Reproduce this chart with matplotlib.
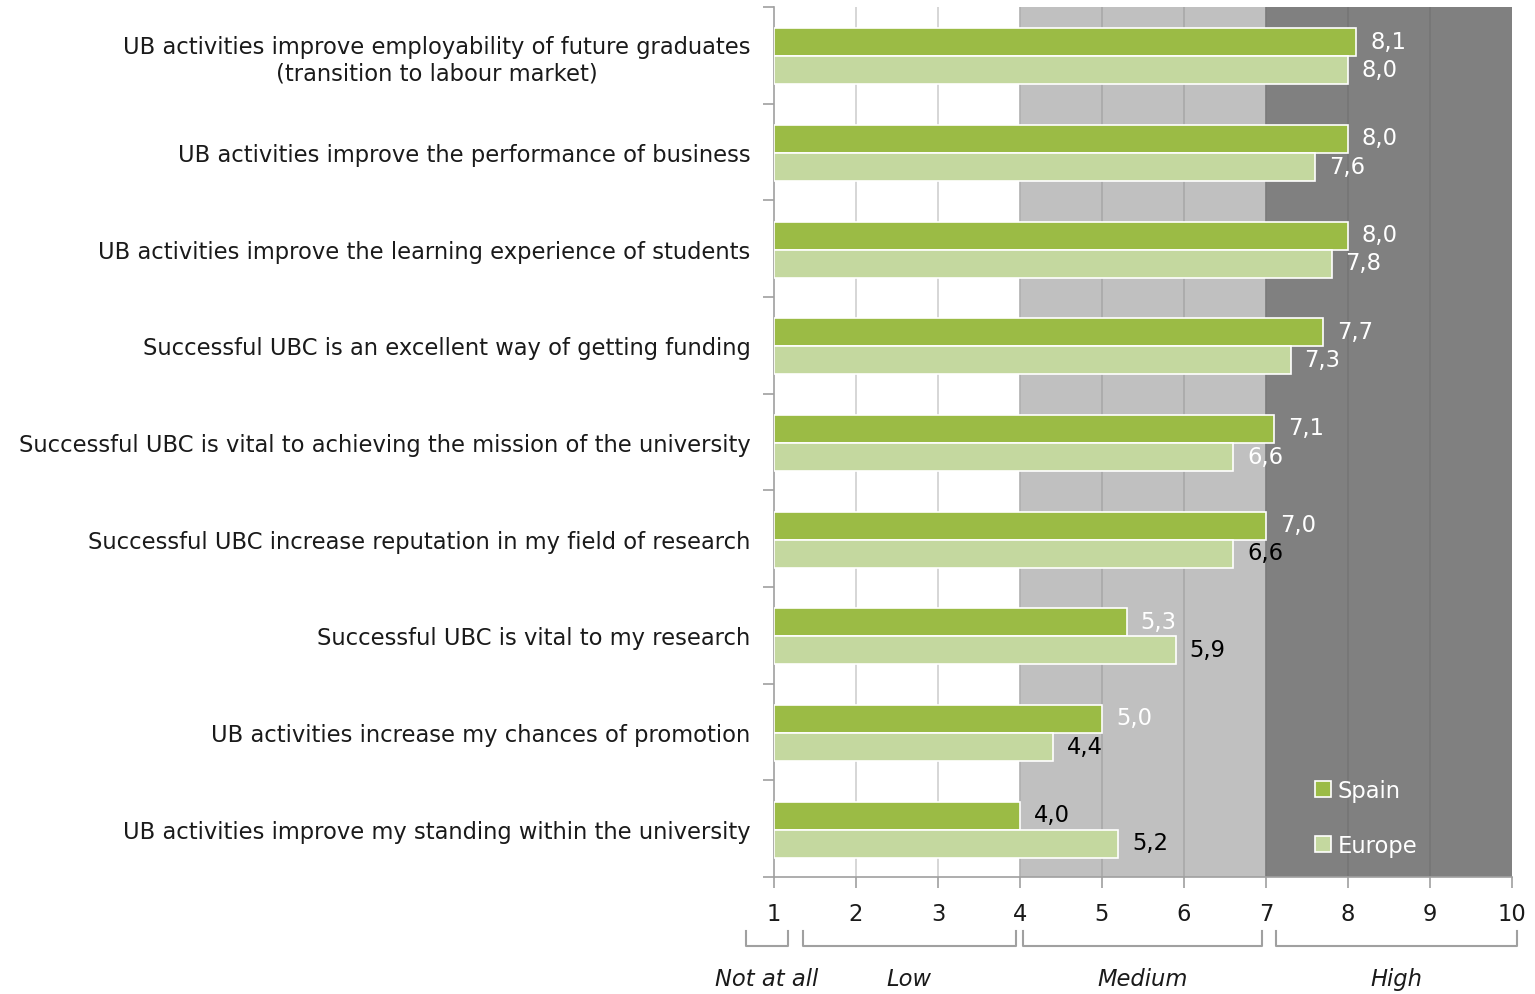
import matplotlib
matplotlib.use("Agg")
import matplotlib.pyplot as plt
import numpy as np

categories = [
    "UB activities improve employability of future graduates\n(transition to labour market)",
    "UB activities improve the performance of business",
    "UB activities improve the learning experience of students",
    "Successful UBC is an excellent way of getting funding",
    "Successful UBC is vital to achieving the mission of the university",
    "Successful UBC increase reputation in my field of research",
    "Successful UBC is vital to my research",
    "UB activities increase my chances of promotion",
    "UB activities improve my standing within the university",
]
spain = [8.1, 8.0, 8.0, 7.7, 7.1, 7.0, 5.3, 5.0, 4.0]
europe = [8.0, 7.6, 7.8, 7.3, 6.6, 6.6, 5.9, 4.4, 5.2]
spain_label_colors = ["white"] * 7 + ["white", "black"]
europe_label_colors = ["white"] * 5 + ["black", "black", "black", "black"]
series_names = ["Spain", "Europe"]
xticks = list(range(1, 11))
bands = [("Not at all", 0.66, 1.17), ("Low", 1.35, 3.95), ("Medium", 4.04, 6.95), ("High", 7.12, 10.06)]

plt.rcParams['font.family'] = ['DejaVu Sans']
FS = 16.3

fig = plt.figure(figsize=(15.35, 9.95), dpi=100)
ax = fig.add_axes([774/1535, 1 - 878/995, (1512-774)/1535, (878-8)/995])

c_spain = "#9bbb45"
c_europe = "#c4d89f"

ax.axvspan(4, 7, color="#c0c0c0", zorder=0, lw=0)
ax.axvspan(7, 10, color="#808080", zorder=0, lw=0)
grid_colors = {2: "#d0d0d0", 3: "#d0d0d0", 4: "#b0b0b0", 5: "#a8a8a8", 6: "#a8a8a8",
               7: "#7a7a7a", 8: "#767676", 9: "#767676"}
for x in xticks[1:-1]:
    ax.axvline(x, color=grid_colors[x], lw=1.2, zorder=1)

n = len(categories)
y = np.arange(n)
h = 0.29
ax.barh(y - h/2 + 0.01, [v - 1 for v in spain], left=1, height=h, color=c_spain,
        edgecolor="white", lw=1.2, zorder=3, label=series_names[0])
ax.barh(y + h/2 + 0.01, [v - 1 for v in europe], left=1, height=h, color=c_europe,
        edgecolor="white", lw=1.2, zorder=3, label=series_names[1])

for i in range(n):
    ax.text(spain[i] + 0.17, y[i] - h/2 + 0.0, f"{spain[i]:.1f}".replace(".", ","),
            va="center", ha="left", fontsize=FS, color=spain_label_colors[i], zorder=5)
    ax.text(europe[i] + 0.17, y[i] + h/2 + 0.0, f"{europe[i]:.1f}".replace(".", ","),
            va="center", ha="left", fontsize=FS, color=europe_label_colors[i], zorder=5)

ax.set_xlim(1, 10)
ax.set_ylim(n - 0.5, -0.5)
ax.set_xticks(xticks)
ax.set_xticklabels([str(t) for t in xticks], fontsize=FS, color="#1a1a1a")
ax.set_yticks(y)
ax.set_yticklabels(categories, fontsize=FS, color="#1a1a1a", ha="right",
                   multialignment="center")
ax.set_yticks(np.arange(-0.5, n, 1.0), minor=True)
ax.tick_params(axis="y", which="major", length=0, pad=17)
ax.tick_params(axis="y", which="minor", length=8, color="#a0a0a0", width=1.2)
ax.tick_params(axis="x", length=8, color="#a0a0a0", width=1.2, pad=10)
for s in ["top", "right"]:
    ax.spines[s].set_visible(False)
for s in ["left", "bottom"]:
    ax.spines[s].set_color("#a0a0a0")
    ax.spines[s].set_linewidth(1.2)

trans = ax.get_xaxis_transform()
for name, x0, x1 in bands:
    ax.plot([x0, x0, x1, x1], [-0.062, -0.079, -0.079, -0.062], color="#a0a0a0",
            lw=1.5, transform=trans, clip_on=False)
    ax.text((x0 + x1) / 2, -0.117, name, transform=trans, ha="center", va="center",
            fontsize=FS, style="italic", color="#1a1a1a")

leg = ax.legend(loc="lower left", bbox_to_anchor=(0.705, 0.0), frameon=False,
                fontsize=FS, labelspacing=1.4, handlelength=0.7, handleheight=0.7,
                handletextpad=0.3)
for t in leg.get_texts():
    t.set_color("white")

fig.savefig("out.png", dpi=100)
